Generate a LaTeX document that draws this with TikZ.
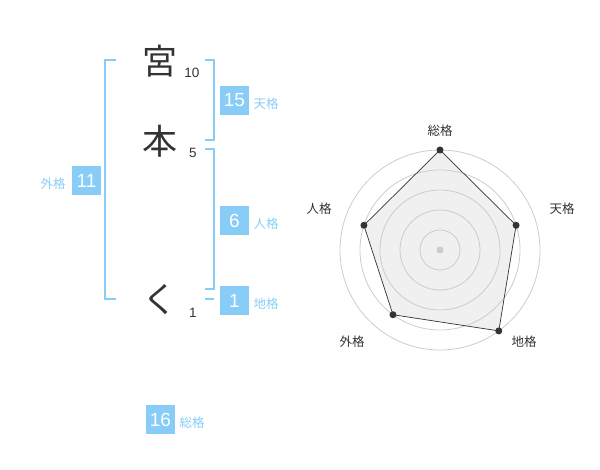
\documentclass[tikz,border=0pt]{standalone}
\usepackage{fontspec}
\setmainfont{Noto Sans CJK JP}
\newfontfamily\digitfont{Liberation Sans}
\definecolor{kblue}{HTML}{88CCF8}
\definecolor{ktext}{HTML}{333333}
\definecolor{kgrid}{HTML}{CCCCCC}
\definecolor{kfill}{HTML}{F0F0F0}
\begin{document}
\begin{tikzpicture}[x=1pt,y=-1pt,
  kanji/.style={font=\fontsize{35}{35}\selectfont,text=ktext,inner sep=0pt},
  strokes/.style={font=\digitfont\fontsize{13.5}{13.5}\selectfont,text=ktext,inner sep=0pt},
  numbox/.style={fill=kblue,text=white,minimum width=29pt,minimum height=29pt,inner sep=0pt,font=\digitfont\fontsize{19}{19}\selectfont},
  kaku/.style={text=kblue,font=\fontsize{12.5}{12.5}\selectfont,inner sep=0pt},
  bracket/.style={draw=kblue,line width=1.8pt},
  axislabel/.style={text=ktext,font=\fontsize{12.5}{12.5}\selectfont,inner sep=0pt},
  ring/.style={draw=kgrid,line width=0.8pt},
  datapt/.style={circle,fill=ktext,inner sep=0pt,minimum size=7pt}]
\useasboundingbox (0,0) rectangle (600,470);

% characters
\node[kanji] (c1) at (160,61) {宮};
\node[kanji] (c2) at (160,141) {本};
\node[kanji] (c3) at (160,300) {く};
\node[strokes] (s1) at (192,73) {10};
\node[strokes] (s2) at (193,153) {5};
\node[strokes] (s3) at (193,313) {1};

% brackets
\draw[bracket] (116,60) -- (105,60) -- (105,299) -- (116,299);
\draw[bracket] (205,60) -- (214,60) -- (214,140) -- (205,140);
\draw[bracket] (205,149) -- (214,149) -- (214,289) -- (205,289);
\draw[bracket] (205,299) -- (214,299);

% boxes
\node[numbox] (ten) at (234.5,100.5) {15};
\node[kaku] (tenl) at (266,104) {天格};
\node[numbox] (jin) at (234.5,220.5) {6};
\node[kaku] (jinl) at (266,224) {人格};
\node[numbox] (chi) at (234.5,300.5) {1};
\node[kaku] (chil) at (266,304) {地格};
\node[numbox] (gai) at (86.5,180.5) {11};
\node[kaku] (gail) at (53,184) {外格};
\node[numbox] (sou) at (160.5,419.5) {16};
\node[kaku] (soul) at (192,423) {総格};

% radar chart
\begin{scope}[shift={(440,250)},y=1pt]
  \fill[kfill] (90:100) -- (18:80) -- (-54:100) -- (-126:80) -- (162:80) -- cycle;
  \foreach \r in {20,40,60,80,100} \draw[ring] (0,0) circle (\r);
  \fill[kgrid] (0,0) circle (3.5);
  \draw[ktext,line width=0.7pt] (90:100) -- (18:80) -- (-54:100) -- (-126:80) -- (162:80) -- cycle;
  \node[datapt] (p1) at (90:100) {};
  \node[datapt] (p2) at (18:80) {};
  \node[datapt] (p3) at (-54:100) {};
  \node[datapt] (p4) at (-126:80) {};
  \node[datapt] (p5) at (162:80) {};
  \node[axislabel] (a1) at (0,119) {総格};
  \node[axislabel] (a2) at (122,41) {天格};
  \node[axislabel] (a3) at (84,-92) {地格};
  \node[axislabel] (a4) at (-88,-92) {外格};
  \node[axislabel] (a5) at (-121,41) {人格};
\end{scope}
\end{tikzpicture}
\end{document}
